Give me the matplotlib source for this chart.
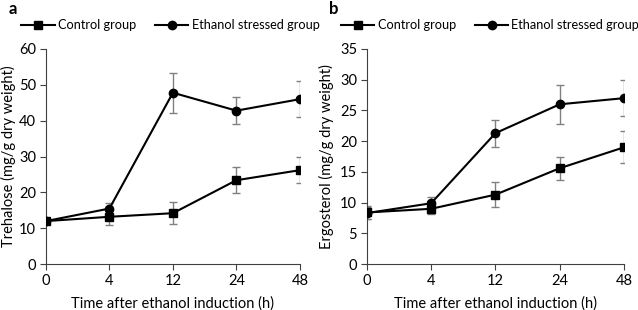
import matplotlib
matplotlib.use("Agg")
import matplotlib.pyplot as plt
import numpy as np

plt.rcParams['font.family'] = ['Lato', 'DejaVu Sans']

time_labels = ["0", "4", "12", "24", "48"]

tre_control = [12.0, 13.2, 14.2, 23.4, 26.2]
tre_control_err = [0.4, 2.2, 3.1, 3.7, 3.6]
tre_ethanol = [12.0, 15.5, 47.8, 42.8, 46.0]
tre_ethanol_err = [0.4, 1.6, 5.6, 3.8, 5.0]

erg_control = [8.4, 9.0, 11.3, 15.6, 19.0]
erg_control_err = [1.0, 0.8, 2.0, 1.9, 2.6]
erg_ethanol = [8.3, 9.9, 21.3, 26.0, 27.0]
erg_ethanol_err = [1.0, 1.0, 2.2, 3.2, 2.9]

fig = plt.figure(figsize=(6.38, 3.10), dpi=100)
axa = fig.add_axes([0.072, 0.148, 0.398, 0.694])
axb = fig.add_axes([0.575, 0.148, 0.403, 0.694])

x = np.arange(len(time_labels))

def draw(ax, ctrl, ctrl_err, eth, eth_err, ylim, yticks, ylabel, ylab_x, leg_x):
    for vals, errs, mk, lab in [(ctrl, ctrl_err, 's', 'Control group'),
                                (eth, eth_err, 'o', 'Ethanol stressed group')]:
        ax.errorbar(x, vals, yerr=errs, fmt='none', ecolor='#808080',
                    elinewidth=1.0, capsize=3, capthick=1.0, zorder=2)
        ax.plot(x, vals, color='black', marker=mk, markersize=6, lw=1.5,
                label=lab, zorder=3)
    ax.set_xlim(0, len(time_labels) - 1)
    ax.set_ylim(*ylim)
    ax.set_yticks(yticks)
    ax.set_xticks(x)
    ax.set_xticklabels(time_labels)
    for s in ['top', 'right']:
        ax.spines[s].set_visible(False)
    for s in ['left', 'bottom']:
        ax.spines[s].set_color('#404040')
    ax.tick_params(direction='out', length=4, pad=3, labelsize=10.5,
                   colors='#404040', labelcolor='black')
    ax.set_ylabel(ylabel, fontsize=10.5)
    ax.yaxis.set_label_coords(ylab_x, 0.5)
    ax.set_xlabel("Time after ethanol induction (h)", fontsize=10.5, labelpad=6)
    ax.legend(loc='center', bbox_to_anchor=(leg_x, 1.11), ncol=2,
              frameon=False, fontsize=9.2, handlelength=2.6,
              handletextpad=0.25, columnspacing=1.5, borderaxespad=0,
              borderpad=0)

draw(axa, tre_control, tre_control_err, tre_ethanol, tre_ethanol_err,
     (0, 60), range(0, 61, 10), "Trehalose (mg/g dry weight)", -0.118, 0.49)
draw(axb, erg_control, erg_control_err, erg_ethanol, erg_ethanol_err,
     (0, 35), range(0, 36, 5), "Ergosterol (mg/g dry weight)", -0.128, 0.48)

fig.text(0.014, 0.97, "a", fontsize=12, fontweight='bold', va='center')
fig.text(0.516, 0.97, "b", fontsize=12, fontweight='bold', va='center')

fig.savefig("out.png", dpi=100)
